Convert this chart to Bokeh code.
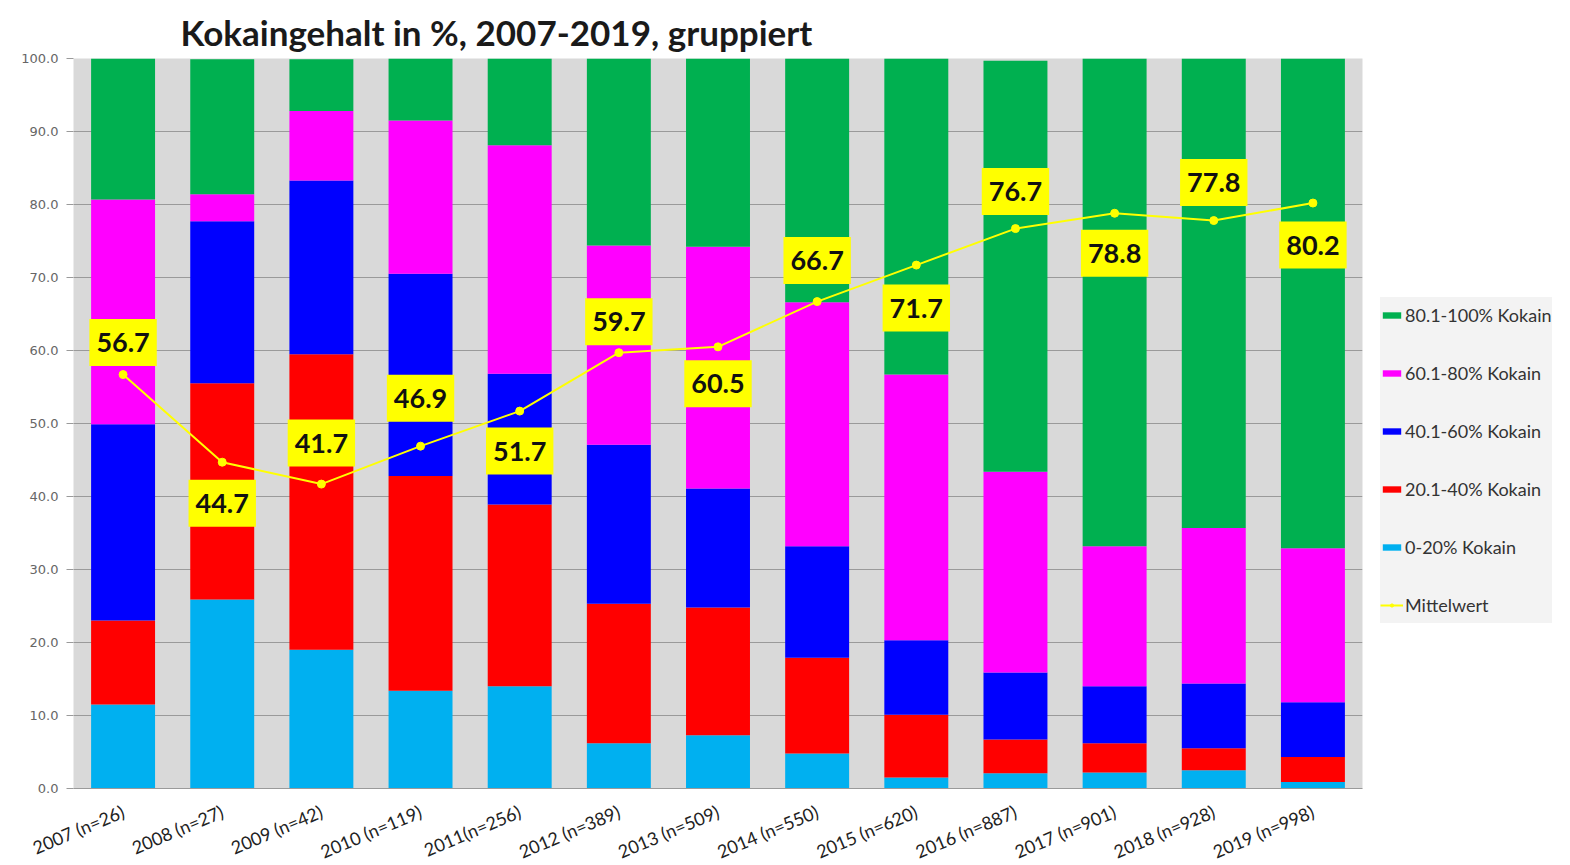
from bokeh.plotting import figure
from bokeh.models import (ColumnDataSource, Legend, LegendItem, Label, FixedTicker,
                          NumeralTickFormatter, Range1d)
from bokeh.embed import file_html
from bokeh.resources import INLINE

years = ["2007 (n=26)", "2008 (n=27)", "2009 (n=42)", "2010 (n=119)", "2011(n=256)",
         "2012 (n=389)", "2013 (n=509)", "2014 (n=550)", "2015 (n=620)", "2016 (n=887)",
         "2017 (n=901)", "2018 (n=928)", "2019 (n=998)"]
p0_20 = [11.5, 25.9, 19.0, 13.4, 14.0, 6.2, 7.3, 4.8, 1.5, 2.1, 2.2, 2.5, 0.9]
p20_40 = [11.5, 29.6, 40.5, 29.4, 24.9, 19.1, 17.5, 13.1, 8.6, 4.6, 4.0, 3.0, 3.4]
p40_60 = [26.9, 22.2, 23.8, 27.7, 17.9, 21.8, 16.3, 15.3, 10.2, 9.2, 7.8, 8.9, 7.5]
p60_80 = [30.8, 3.7, 9.5, 21.0, 31.3, 27.3, 33.1, 33.4, 36.4, 27.5, 19.2, 21.3, 21.1]
p80_100 = [19.3, 18.5, 7.1, 8.5, 11.9, 25.6, 25.8, 33.4, 43.3, 56.3, 66.8, 64.3, 67.1]
mittelwert = [56.7, 44.7, 41.7, 46.9, 51.7, 59.7, 60.5, 66.7, 71.7, 76.7, 78.8, 77.8, 80.2]

series_names = ["0-20% Kokain", "20.1-40% Kokain", "40.1-60% Kokain", "60.1-80% Kokain", "80.1-100% Kokain"]
series_vals = [p0_20, p20_40, p40_60, p60_80, p80_100]
colors = ["#00b0f0", "#ff0000", "#0000ff", "#ff00ff", "#00b050"]
# label offset in screen px (positive = above point)
label_offsets = [32, -41, 41, 48, -40, 31, -37, 41, -43, 37, -40, 38, -42]

xs = list(range(len(years)))

p = figure(frame_width=1289, frame_height=730, output_backend="svg", toolbar_location=None,
           x_range=Range1d(-0.5, len(years) - 0.5), y_range=Range1d(0, 100),
           min_border_left=73, min_border_right=190, min_border_top=58, min_border_bottom=72,
           title="Kokaingehalt in %, 2007-2019, gruppiert")
p.title.text_font = "Lato"
p.title.text_font_size = "35px"
p.title.text_font_style = "bold"
p.title.text_color = "#1a1a1a"
p.title.align = "left"
p.title.offset = 107
p.title.standoff = 12
p.background_fill_color = "#d9d9d9"
p.border_fill_color = "white"
p.outline_line_color = None

renderers = []
bottom = [0.0] * len(years)
for name, vals, col in zip(series_names, series_vals, colors):
    top = [b + v for b, v in zip(bottom, vals)]
    src = ColumnDataSource(dict(x=xs, bottom=bottom, top=top))
    r = p.vbar(x="x", bottom="bottom", top="top", width=0.645, source=src,
               fill_color=col, line_color=None)
    renderers.append((name, r))
    bottom = top

msrc = ColumnDataSource(dict(x=xs, y=mittelwert))
ln = p.line("x", "y", source=msrc, line_color="#ffff00", line_width=2)
mk = p.scatter("x", "y", source=msrc, size=8, fill_color="#ffff00", line_color="#ffff00")

for x, v, off in zip(xs, mittelwert, label_offsets):
    p.add_layout(Label(x=x, y=v, y_offset=off, text=f"{v:.1f}", text_font="Lato",
                       text_font_style="bold", text_font_size="27px", text_color="#111111",
                       text_align="center", text_baseline="middle",
                       background_fill_color="#ffff00", padding=(7, 14)))

items = [LegendItem(label=n, renderers=[r]) for n, r in reversed(renderers)]
items.append(LegendItem(label="Mittelwert", renderers=[ln, mk]))
legend = Legend(items=items, location=(18, 165), orientation="vertical",
                background_fill_color="#f2f2f2", border_line_color=None,
                label_text_font="Lato", label_text_font_size="18px", label_text_color="#333333",
                glyph_width=23, glyph_height=8, label_height=36, spacing=22,
                label_standoff=2, padding=8, margin=0)
p.add_layout(legend, "right")

p.yaxis.ticker = FixedTicker(ticks=list(range(0, 101, 10)))
p.yaxis.formatter = NumeralTickFormatter(format="0.0")
p.yaxis.major_label_text_font = "DejaVu Sans"
p.yaxis.major_label_text_font_size = "13px"
p.yaxis.major_label_text_color = "#666666"
p.yaxis.major_label_standoff = 8
p.yaxis.axis_line_color = None
p.yaxis.major_tick_in = 0
p.yaxis.major_tick_out = 7
p.yaxis.major_tick_line_color = "#9a9a9a"
p.yaxis.minor_tick_line_color = None

p.xaxis.ticker = FixedTicker(ticks=xs)
p.xaxis.major_label_overrides = {x: y for x, y in zip(xs, years)}
p.xaxis.major_label_orientation = 0.4
p.xaxis.major_label_text_font = "Lato"
p.xaxis.major_label_text_font_size = "18px"
p.xaxis.major_label_text_color = "#222222"
p.xaxis.major_label_standoff = 16
p.xaxis.axis_line_color = "#9a9a9a"
p.xaxis.major_tick_line_color = None
p.xaxis.minor_tick_line_color = None

p.xgrid.grid_line_color = None
p.ygrid.grid_line_color = "#9a9a9a"
p.ygrid.grid_line_width = 1

open("out.html", "w").write(file_html(p, INLINE))
